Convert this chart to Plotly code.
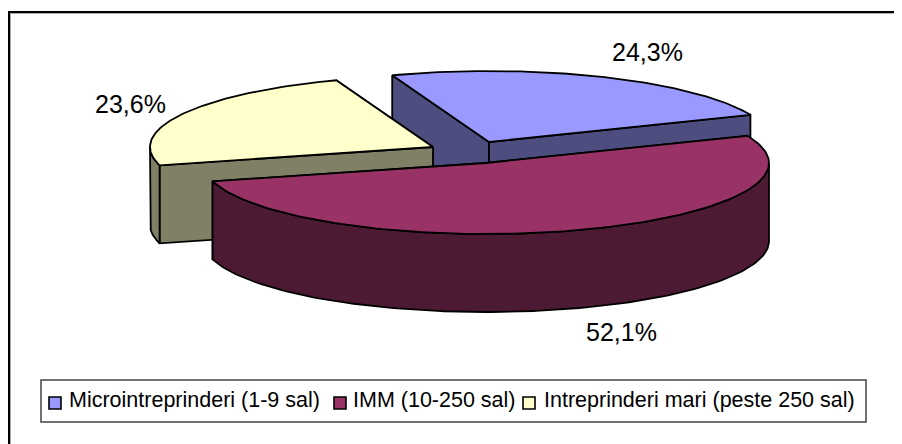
import numpy as np
import plotly.graph_objects as go

# ==========================================================
# Data
# ==========================================================

categories = [
    "Microintreprinderi (1-9 sal)",
    "IMM (10-250 sal)",
    "Intreprinderi mari (peste 250 sal)",
]
shares = [24.3, 52.1, 23.6]

top_colors = ["#9999FF", "#993366", "#FFFFCC"]
side_colors = ["#4D4D80", "#4D1A33", "#808066"]

# pixel layout of the drawing
centers = [(489, 142), (486, 163), (433, 147)]
label_pos = [(647, 52), (621, 332), (130, 104)]
legend_marker_x = [55, 340, 529]
legend_text_x = [69, 353, 544]

RX = 283
RY = 71
DEPTH = 78
START_ANGLE = -20

# the page body has an 8px margin, the axes are set so that
# one data unit is one pixel of the 902x444 window
PAGE_MARGIN = 8


# ==========================================================
# Geometry helpers
# ==========================================================

def rim(center, a0, a1, drop=0):
    # angles in degrees, clockwise from the top of the ellipse
    t = np.radians(np.linspace(a0, a1, 120))
    x = center[0] + RX * np.sin(t)
    y = center[1] - RY * np.cos(t) + drop
    return list(x), list(y)


def add_poly(fig, x, y, color):
    fig.add_trace(
        go.Scatter(
            x=x,
            y=y,
            mode="lines",
            fill="toself",
            fillcolor=color,
            line=dict(color="black", width=1.8),
            hoverinfo="skip",
            showlegend=False,
        )
    )


def add_wall(fig, center, angle, color):
    # flat cut face going from the pie centre to the rim
    ex, ey = rim(center, angle, angle)
    add_poly(
        fig,
        [center[0], ex[0], ex[0], center[0], center[0]],
        [center[1], ey[0], ey[0] + DEPTH, center[1] + DEPTH, center[1]],
        color,
    )


def add_outer(fig, center, a0, a1, color):
    # curved outer side, only the part facing the viewer
    lo = max(a0, 90)
    hi = min(a1, 270)
    if lo >= hi:
        return
    x1, y1 = rim(center, lo, hi)
    x2, y2 = rim(center, lo, hi, DEPTH)
    add_poly(fig, x1 + x2[::-1] + x1[:1], y1 + y2[::-1] + y1[:1], color)


def add_top(fig, center, a0, a1, color):
    x, y = rim(center, a0, a1)
    add_poly(
        fig,
        [center[0]] + x + [center[0]],
        [center[1]] + y + [center[1]],
        color,
    )


# ==========================================================
# Figure
# ==========================================================

fig = go.Figure()

angles = START_ANGLE + np.cumsum([0] + shares) * 3.6

# painting order: back slices first, the big front slice last
for i in [0, 2, 1]:
    a0, a1 = angles[i], angles[i + 1]
    c = centers[i]
    # the wall whose rim end lies further back goes first
    walls = sorted([a0, a1], key=lambda a: -np.cos(np.radians(a)))
    for a in walls:
        add_wall(fig, c, a, side_colors[i])
    add_outer(fig, c, a0, a1, side_colors[i])
    add_top(fig, c, a0, a1, top_colors[i])

fig.add_trace(
    go.Scatter(
        x=legend_marker_x,
        y=[403, 403, 403],
        mode="markers",
        marker=dict(
            symbol="square",
            size=12,
            color=top_colors,
            line=dict(color="black", width=1.6),
        ),
        hoverinfo="skip",
        showlegend=False,
    )
)

annotations = []

for i, share in enumerate(shares):
    annotations.append(
        dict(
            x=label_pos[i][0],
            y=label_pos[i][1],
            text=f"{share:.1f}%".replace(".", ","),
            showarrow=False,
            font=dict(size=25),
        )
    )
    annotations.append(
        dict(
            x=legend_text_x[i],
            y=400,
            xanchor="left",
            text=categories[i],
            showarrow=False,
            xshift=-2,
            font=dict(size=21.5),
        )
    )

fig.update_layout(
    width=902 - PAGE_MARGIN,
    height=444 - PAGE_MARGIN,
    margin=dict(l=0, r=0, t=0, b=0),
    paper_bgcolor="white",
    plot_bgcolor="white",
    font=dict(family="Liberation Sans", color="black"),
    xaxis=dict(range=[PAGE_MARGIN, 902], visible=False, fixedrange=True),
    yaxis=dict(range=[444, PAGE_MARGIN], visible=False, fixedrange=True),
    annotations=annotations,
    shapes=[
        # chart frame, only its left and top sides are inside the window
        dict(type="line", x0=10.5, y0=13.5, x1=902, y1=13.5,
             line=dict(color="#AAAAAA", width=1), layer="below"),
        dict(type="line", x0=10.5, y0=13.5, x1=10.5, y1=444,
             line=dict(color="#AAAAAA", width=1), layer="below"),
        dict(type="line", x0=9, y0=12, x1=902, y1=12,
             line=dict(color="black", width=2), layer="below"),
        dict(type="line", x0=9, y0=11, x1=9, y1=444,
             line=dict(color="black", width=2), layer="below"),
        # legend box
        dict(type="rect", x0=41, y0=380, x1=866, y1=422,
             line=dict(color="#444444", width=1.5), layer="below"),
    ],
)

fig.write_html("out.html")
